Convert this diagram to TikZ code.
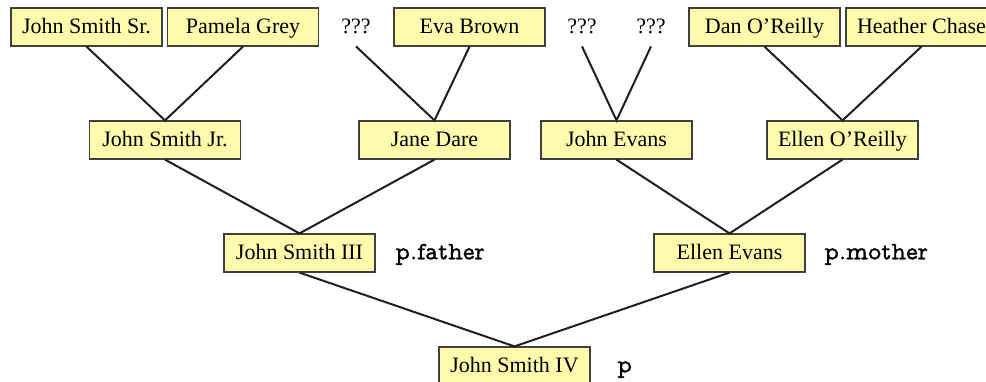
\documentclass[tikz,border=0pt]{standalone}
\usepackage{fontspec}
\setmainfont{Liberation Serif}
\newfontfamily\labfont[FakeBold=1.2]{Latin Modern Mono Prop}
\definecolor{boxfill}{RGB}{255,251,172}
\definecolor{boxedge}{RGB}{64,64,64}
\definecolor{linkc}{RGB}{34,30,30}
\begin{document}
\begin{tikzpicture}[x=0.5pt,y=-0.5pt,
  person/.style={draw=boxedge,line width=0.6pt,fill=boxfill,inner sep=0pt,
    minimum width=75.5pt,minimum height=19pt,text height=8pt,text depth=1.7pt,
    font=\fontsize{11}{13}\selectfont},
  unknown/.style={inner sep=0pt,minimum width=75.5pt,minimum height=19pt,
    text height=8pt,text depth=1.7pt,font=\fontsize{11}{13}\selectfont},
  lab/.style={inner sep=0pt,font=\labfont\fontsize{12.5}{14}\selectfont},
  link/.style={draw=linkc,line width=1pt}]
\useasboundingbox (0,0) rectangle (986,381);
% top row
\node[person] (jss) at (86.5,27) {John Smith Sr.};
\node[person] (pg) at (243,27) {Pamela Grey};
\node[unknown] (q1) at (356,27) {???};
\node[person] (eb) at (469.5,27) {Eva Brown};
\node[unknown] (q2) at (582,27) {???};
\node[unknown] (q3) at (651,27) {???};
\node[person] (dan) at (764.5,27) {Dan O’Reilly};
\node[person] (hc) at (921.5,27) {Heather Chase};
% second row
\node[person] (jsj) at (165,140) {John Smith Jr.};
\node[person] (jd) at (434.5,140) {Jane Dare};
\node[person] (je) at (616.5,140) {John Evans};
\node[person] (eor) at (842.5,140) {Ellen O’Reilly};
% third row
\node[person] (js3) at (299.5,253) {John Smith III};
\node[person] (ee) at (729.5,253) {Ellen Evans};
% bottom
\node[person] (js4) at (514.5,366) {John Smith IV};
% labels
\coordinate (xpf) at (395,0);
\coordinate (xpm) at (824,0);
\coordinate (xp) at (617,0);
\node[lab,anchor=base west] (pfather) at (js3.base -| xpf) {p.father};
\node[lab,anchor=base west] (pmother) at (ee.base -| xpm) {p.mother};
\node[lab,anchor=base west] (pp) at (js4.base -| xp) {p};
% links
\draw[link] (jss.south) -- (jsj.north) -- (pg.south);
\draw[link] (q1.south) -- (jd.north) -- (eb.south);
\draw[link] (q2.south) -- (je.north) -- (q3.south);
\draw[link] (dan.south) -- (eor.north) -- (hc.south);
\draw[link] (jsj.south) -- (js3.north) -- (jd.south);
\draw[link] (je.south) -- (ee.north) -- (eor.south);
\draw[link] (js3.south) -- (js4.north) -- (ee.south);
\end{tikzpicture}
\end{document}
